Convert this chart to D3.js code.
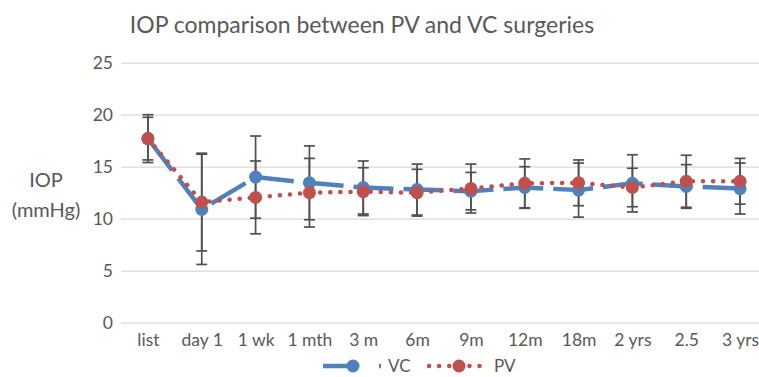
<!DOCTYPE html>
<html>
<head>
<meta charset="utf-8">
<script src="https://cdn.jsdelivr.net/npm/d3@7"></script>
<style>
  html, body { margin: 0; padding: 0; background: #fff; }
  svg { display: block; font-family: Lato, "Open Sans", sans-serif; }
</style>
</head>
<body>
<svg id="chart" width="759" height="377"></svg>
<script>
// categories along the x axis
const categories = ['list', 'day 1', '1 wk', '1 mth', '3 m', '6m', '9m', '12m', '18m', '2 yrs', '2.5', '3 yrs'];

// VC series: mean IOP and error (+/-)
const vcMean = [17.7, 10.9, 14.0, 13.45, 13.0, 12.8, 12.65, 13.0, 12.75, 13.4, 13.1, 12.9];
const vcErr  = [2.05, 5.3, 3.95, 3.55, 2.55, 2.45, 1.8, 2.0, 2.6, 2.75, 2.1, 2.45];

// PV series: mean IOP and error (+/-)
const pvMean = [17.7, 11.6, 12.05, 12.5, 12.6, 12.5, 12.9, 13.4, 13.45, 13.0, 13.6, 13.6];
const pvErr  = [2.3, 4.7, 3.5, 3.3, 2.3, 2.25, 2.35, 2.35, 2.2, 1.85, 2.5, 2.2];

const yTicks = [0, 5, 10, 15, 20, 25];

const svg = d3.select('#chart');
const textColor = '#595959';
const font = 'Lato, "Open Sans", sans-serif';

const x = d3.scalePoint()
  .domain(categories)
  .range([121, 767])
  .padding(0.5);

const y = d3.scaleLinear()
  .domain([0, 25])
  .range([322.7, 62.7]);

// gridlines
svg.append('g')
  .attr('class', 'grid')
  .attr('transform', 'translate(121,0)')
  .call(d3.axisLeft(y).tickValues(yTicks).tickSize(-646).tickFormat(''))
  .call(g => g.select('.domain').remove())
  .call(g => g.selectAll('line').attr('stroke', '#d9d9d9').attr('stroke-width', 1.3));

// y tick labels
svg.append('g')
  .attr('transform', 'translate(121,0)')
  .call(d3.axisLeft(y).tickValues(yTicks).tickSize(0).tickPadding(8))
  .call(g => g.select('.domain').remove())
  .call(g => g.selectAll('text')
    .attr('fill', textColor)
    .style('font-size', '17.5px')
    .style('font-family', font));

// x tick labels
svg.append('g')
  .attr('transform', 'translate(0,322.7)')
  .call(d3.axisBottom(x).tickSize(0).tickPadding(11))
  .call(g => g.select('.domain').remove())
  .call(g => g.selectAll('text')
    .attr('fill', textColor)
    .style('font-size', '17.5px')
    .style('font-family', font));

// title
svg.append('text')
  .attr('x', 362)
  .attr('y', 33)
  .attr('text-anchor', 'middle')
  .attr('fill', textColor)
  .style('font-size', '23px')
  .text('IOP comparison between PV and VC surgeries');

// y axis title
const yTitle = svg.append('text')
  .attr('text-anchor', 'middle')
  .attr('fill', textColor)
  .style('font-size', '20px');
yTitle.append('tspan').attr('x', 46).attr('y', 187).text('IOP');
yTitle.append('tspan').attr('x', 46).attr('y', 217).text('(mmHg)');

const series = [
  { name: 'VC', mean: vcMean, err: vcErr, color: '#4f81bd', dash: '40,10', cap: 'butt' },
  { name: 'PV', mean: pvMean, err: pvErr, color: '#c0504d', dash: '0.1,10', cap: 'round' }
];

const line = d3.line()
  .x((d, i) => x(categories[i]))
  .y(d => y(d));

// error bars
series.forEach(s => {
  const eb = svg.append('g')
    .attr('class', 'err ' + s.name)
    .attr('stroke', '#505050')
    .attr('stroke-width', 1.7);

  eb.selectAll('line.v')
    .data(s.mean)
    .join('line')
      .attr('class', 'v')
      .attr('x1', (d, i) => x(categories[i]))
      .attr('x2', (d, i) => x(categories[i]))
      .attr('y1', (d, i) => y(d + s.err[i]))
      .attr('y2', (d, i) => y(d - s.err[i]));

  ['+', '-'].forEach(sign => {
    eb.selectAll('line.c' + (sign === '+' ? 't' : 'b'))
      .data(s.mean)
      .join('line')
        .attr('class', 'c' + (sign === '+' ? 't' : 'b'))
        .attr('x1', (d, i) => x(categories[i]) - 5.5)
        .attr('x2', (d, i) => x(categories[i]) + 5.5)
        .attr('y1', (d, i) => y(sign === '+' ? d + s.err[i] : d - s.err[i]))
        .attr('y2', (d, i) => y(sign === '+' ? d + s.err[i] : d - s.err[i]));
  });
});

// lines and markers
series.forEach(s => {
  svg.append('path')
    .datum(s.mean)
    .attr('fill', 'none')
    .attr('stroke', s.color)
    .attr('stroke-width', 4.5)
    .attr('stroke-dasharray', s.dash)
    .attr('stroke-linecap', s.cap)
    .attr('d', line);

  svg.append('g')
    .selectAll('circle')
    .data(s.mean)
    .join('circle')
      .attr('cx', (d, i) => x(categories[i]))
      .attr('cy', d => y(d))
      .attr('r', 6.5)
      .attr('fill', s.color);
});

// legend
const legend = [
  { name: 'VC', x0: 323, color: '#4f81bd', dash: '34,22', cap: 'butt' },
  { name: 'PV', x0: 429, color: '#c0504d', dash: '0.1,10', cap: 'round' }
];
const ly = 366;
legend.forEach(l => {
  const g = svg.append('g');
  g.append('line')
    .attr('x1', l.x0).attr('x2', l.x0 + 58)
    .attr('y1', ly).attr('y2', ly)
    .attr('stroke', l.color)
    .attr('stroke-width', 4.5)
    .attr('stroke-dasharray', l.dash)
    .attr('stroke-linecap', l.cap);
  g.append('circle')
    .attr('cx', l.x0 + 30).attr('cy', ly)
    .attr('r', 6.5)
    .attr('fill', l.color);
  g.append('text')
    .attr('x', l.x0 + 65).attr('y', ly + 6)
    .attr('fill', textColor)
    .style('font-size', '17px')
    .text(l.name);
});
</script>
</body>
</html>
